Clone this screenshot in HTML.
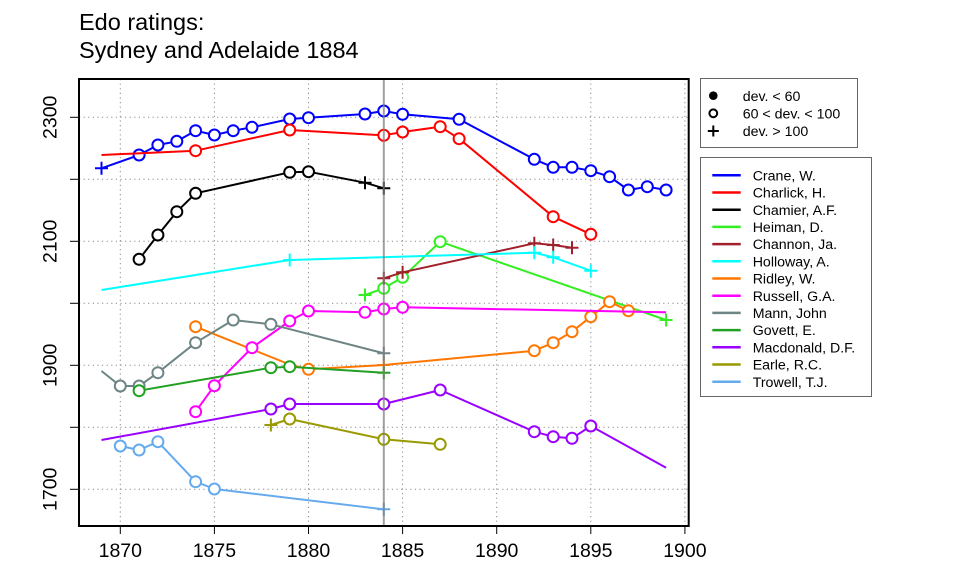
<!DOCTYPE html>
<html>
<head>
<meta charset="utf-8">
<style>
  html, body { margin:0; padding:0; background:#fff; }
  svg { display:block; }
  text { font-family: "Liberation Sans", Arial, sans-serif; fill:#000; }
</style>
</head>
<body>
<svg width="960" height="576" viewBox="0 0 960 576" xmlns="http://www.w3.org/2000/svg">
  <rect x="0" y="0" width="960" height="576" fill="#fff"/>

  <!-- Title -->
  <text x="79" y="30" font-size="23.5">Edo ratings:</text>
  <text x="79" y="58" font-size="23.5">Sydney and Adelaide 1884</text>

  <!-- Grid -->
  <g stroke="#8a8a8a" stroke-width="1" stroke-dasharray="1.2 3.4" fill="none">
    <line x1="120.3" y1="79" x2="120.3" y2="526"/>
    <line x1="214.4" y1="79" x2="214.4" y2="526"/>
    <line x1="308.5" y1="79" x2="308.5" y2="526"/>
    <line x1="402.6" y1="79" x2="402.6" y2="526"/>
    <line x1="496.7" y1="79" x2="496.7" y2="526"/>
    <line x1="590.8" y1="79" x2="590.8" y2="526"/>
    <line x1="684.9" y1="79" x2="684.9" y2="526"/>
    <line x1="79" y1="117.3" x2="689" y2="117.3"/>
    <line x1="79" y1="179.3" x2="689" y2="179.3"/>
    <line x1="79" y1="241.3" x2="689" y2="241.3"/>
    <line x1="79" y1="303.3" x2="689" y2="303.3"/>
    <line x1="79" y1="365.3" x2="689" y2="365.3"/>
    <line x1="79" y1="427.3" x2="689" y2="427.3"/>
    <line x1="79" y1="489.3" x2="689" y2="489.3"/>
  </g>

  <!-- Axis ticks -->
  <g stroke="#000" stroke-width="1">
    <line x1="70" y1="117.3" x2="79" y2="117.3"/>
    <line x1="70" y1="179.3" x2="79" y2="179.3"/>
    <line x1="70" y1="241.3" x2="79" y2="241.3"/>
    <line x1="70" y1="303.3" x2="79" y2="303.3"/>
    <line x1="70" y1="365.3" x2="79" y2="365.3"/>
    <line x1="70" y1="427.3" x2="79" y2="427.3"/>
    <line x1="70" y1="489.3" x2="79" y2="489.3"/>
    <line x1="120.3" y1="526" x2="120.3" y2="534"/>
    <line x1="214.4" y1="526" x2="214.4" y2="534"/>
    <line x1="308.5" y1="526" x2="308.5" y2="534"/>
    <line x1="402.6" y1="526" x2="402.6" y2="534"/>
    <line x1="496.7" y1="526" x2="496.7" y2="534"/>
    <line x1="590.8" y1="526" x2="590.8" y2="534"/>
    <line x1="684.9" y1="526" x2="684.9" y2="534"/>
  </g>

  <!-- Axis labels -->
  <g font-size="19.5" text-anchor="middle">
    <text x="120.3" y="557">1870</text>
    <text x="214.4" y="557">1875</text>
    <text x="308.5" y="557">1880</text>
    <text x="402.6" y="557">1885</text>
    <text x="496.7" y="557">1890</text>
    <text x="590.8" y="557">1895</text>
    <text x="684.9" y="557">1900</text>
    <text transform="translate(56.5,117.3) rotate(-90)">2300</text>
    <text transform="translate(56.5,241.3) rotate(-90)">2100</text>
    <text transform="translate(56.5,365.3) rotate(-90)">1900</text>
    <text transform="translate(56.5,489.3) rotate(-90)">1700</text>
  </g>

  <!-- Series -->
  <g fill="none" stroke-width="2" stroke-linejoin="round">
    <!-- Crane -->
    <g stroke="#0000ff">
      <polyline points="101.5,168.3 139.1,155 157.9,145 176.8,141.3 195.6,130.7 214.4,135 233.2,130.7 252,127.3 289.7,119 308.5,117.7 365,114 383.8,111 402.6,114.3 459.1,119.3 534.3,159.3 553.2,167.3 572,167.3 590.8,170.7 609.6,176.7 628.4,190 647.3,186.7 666.1,190"/>
      <path d="M95 168.3h13M101.5 161.8v13"/>
      <g fill="#fff">
        <circle cx="139.1" cy="155" r="5.5"/><circle cx="157.9" cy="145" r="5.5"/><circle cx="176.8" cy="141.3" r="5.5"/>
        <circle cx="195.6" cy="130.7" r="5.5"/><circle cx="214.4" cy="135" r="5.5"/><circle cx="233.2" cy="130.7" r="5.5"/>
        <circle cx="252" cy="127.3" r="5.5"/><circle cx="289.7" cy="119" r="5.5"/><circle cx="308.5" cy="117.7" r="5.5"/>
        <circle cx="365" cy="114" r="5.5"/><circle cx="383.8" cy="111" r="5.5"/><circle cx="402.6" cy="114.3" r="5.5"/>
        <circle cx="459.1" cy="119.3" r="5.5"/><circle cx="534.3" cy="159.3" r="5.5"/><circle cx="553.2" cy="167.3" r="5.5"/>
        <circle cx="572" cy="167.3" r="5.5"/><circle cx="590.8" cy="170.7" r="5.5"/><circle cx="609.6" cy="176.7" r="5.5"/>
        <circle cx="628.4" cy="190" r="5.5"/><circle cx="647.3" cy="186.7" r="5.5"/><circle cx="666.1" cy="190" r="5.5"/>
      </g>
    </g>
    <!-- Charlick -->
    <g stroke="#ff0000">
      <polyline points="101.5,155 195.6,150.7 289.7,130 383.8,135.3 402.6,132 440.2,126.7 459.1,138.7 553.2,216.7 590.8,234.3"/>
      <g fill="#fff">
        <circle cx="195.6" cy="150.7" r="5.5"/><circle cx="289.7" cy="130" r="5.5"/><circle cx="383.8" cy="135.3" r="5.5"/>
        <circle cx="402.6" cy="132" r="5.5"/><circle cx="440.2" cy="126.7" r="5.5"/><circle cx="459.1" cy="138.7" r="5.5"/>
        <circle cx="553.2" cy="216.7" r="5.5"/><circle cx="590.8" cy="234.3" r="5.5"/>
      </g>
    </g>
    <!-- Chamier -->
    <g stroke="#000000">
      <polyline points="139.1,259.3 157.9,235 176.8,211.7 195.6,193.3 289.7,172.3 308.5,171.7 365,182.7 383.8,188.3"/>
      <path d="M358.5 182.7h13M365 176.2v13M377.3 188.3h13M383.8 181.8v13"/>
      <g fill="#fff">
        <circle cx="139.1" cy="259.3" r="5.5"/><circle cx="157.9" cy="235" r="5.5"/><circle cx="176.8" cy="211.7" r="5.5"/>
        <circle cx="195.6" cy="193.3" r="5.5"/><circle cx="289.7" cy="172.3" r="5.5"/><circle cx="308.5" cy="171.7" r="5.5"/>
      </g>
    </g>
    <!-- Heiman -->
    <g stroke="#33ee22">
      <polyline points="365,295 383.8,288.3 402.6,277.3 440.2,241.7 666.1,320"/>
      <path d="M358.5 295h13M365 288.5v13M659.6 320h13M666.1 313.5v13"/>
      <g fill="#fff">
        <circle cx="383.8" cy="288.3" r="5.5"/><circle cx="402.6" cy="277.3" r="5.5"/><circle cx="440.2" cy="241.7" r="5.5"/>
      </g>
    </g>
    <!-- Channon -->
    <g stroke="#a0202a">
      <polyline points="383.8,278.3 402.6,272.3 534.3,243.3 553.2,245 572,247.7"/>
      <path d="M377.3 278.3h13M383.8 271.8v13M396.1 272.3h13M402.6 265.8v13M527.8 243.3h13M534.3 236.8v13M546.7 245h13M553.2 238.5v13M565.5 247.7h13M572 241.2v13"/>
    </g>
    <!-- Holloway -->
    <g stroke="#00ffff">
      <polyline points="101.5,290 289.7,260 534.3,252.7 553.2,257.3 590.8,270.7"/>
      <path d="M283.2 260h13M289.7 253.5v13M527.8 252.7h13M534.3 246.2v13M546.7 257.3h13M553.2 250.8v13M584.3 270.7h13M590.8 264.2v13"/>
    </g>
    <!-- Ridley -->
    <g stroke="#ff7700">
      <polyline points="195.6,326.7 289.7,364.5 308.5,369.3 383.8,365 534.3,350.7 553.2,342.7 572,331.7 590.8,316.7 609.6,301.7 628.4,310.7"/>
      <path d="M377.3 365h13M383.8 358.5v13"/>
      <g fill="#fff">
        <circle cx="195.6" cy="326.7" r="5.5"/><circle cx="308.5" cy="369.3" r="5.5"/>
        <circle cx="534.3" cy="350.7" r="5.5"/><circle cx="553.2" cy="342.7" r="5.5"/><circle cx="572" cy="331.7" r="5.5"/>
        <circle cx="590.8" cy="316.7" r="5.5"/><circle cx="609.6" cy="301.7" r="5.5"/><circle cx="628.4" cy="310.7" r="5.5"/>
      </g>
    </g>
    <!-- Russell -->
    <g stroke="#ff00ff">
      <polyline points="195.6,411.7 214.4,385.7 252,347.7 289.7,321 308.5,311 365,312.3 383.8,309 402.6,307.3 666.1,312.3"/>
      <g fill="#fff">
        <circle cx="195.6" cy="411.7" r="5.5"/><circle cx="214.4" cy="385.7" r="5.5"/><circle cx="252" cy="347.7" r="5.5"/>
        <circle cx="289.7" cy="321" r="5.5"/><circle cx="308.5" cy="311" r="5.5"/><circle cx="365" cy="312.3" r="5.5"/>
        <circle cx="383.8" cy="309" r="5.5"/><circle cx="402.6" cy="307.3" r="5.5"/>
      </g>
    </g>
    <!-- Mann -->
    <g stroke="#6e8585">
      <polyline points="101.5,371 120.3,386 139.1,386 157.9,372.7 195.6,342.7 233.2,320 270.9,324.3 383.8,353.3"/>
      <path d="M377.3 353.3h13M383.8 346.8v13"/>
      <g fill="#fff">
        <circle cx="120.3" cy="386" r="5.5"/><circle cx="139.1" cy="386" r="5.5"/><circle cx="157.9" cy="372.7" r="5.5"/>
        <circle cx="195.6" cy="342.7" r="5.5"/><circle cx="233.2" cy="320" r="5.5"/><circle cx="270.9" cy="324.3" r="5.5"/>
      </g>
    </g>
    <!-- Govett -->
    <g stroke="#22a022">
      <polyline points="139.1,390.7 270.9,367.7 289.7,366.7 383.8,372.7"/>
      <path d="M377.3 372.7h13M383.8 366.2v13"/>
      <g fill="#fff">
        <circle cx="139.1" cy="390.7" r="5.5"/><circle cx="270.9" cy="367.7" r="5.5"/><circle cx="289.7" cy="366.7" r="5.5"/>
      </g>
    </g>
    <!-- Macdonald -->
    <g stroke="#9900ff">
      <polyline points="101.5,440 270.9,409 289.7,404 383.8,404 440.2,390 534.3,431.7 553.2,436.7 572,438.3 590.8,426 666.1,467.7"/>
      <g fill="#fff">
        <circle cx="270.9" cy="409" r="5.5"/><circle cx="289.7" cy="404" r="5.5"/><circle cx="383.8" cy="404" r="5.5"/>
        <circle cx="440.2" cy="390" r="5.5"/><circle cx="534.3" cy="431.7" r="5.5"/><circle cx="553.2" cy="436.7" r="5.5"/>
        <circle cx="572" cy="438.3" r="5.5"/><circle cx="590.8" cy="426" r="5.5"/>
      </g>
    </g>
    <!-- Earle -->
    <g stroke="#999900">
      <polyline points="270.9,425 289.7,419 383.8,439.3 440.2,444.3"/>
      <path d="M264.4 425h13M270.9 418.5v13"/>
      <g fill="#fff">
        <circle cx="289.7" cy="419" r="5.5"/><circle cx="383.8" cy="439.3" r="5.5"/><circle cx="440.2" cy="444.3" r="5.5"/>
      </g>
    </g>
    <!-- Trowell -->
    <g stroke="#66aaee">
      <polyline points="120.3,446 139.1,450 157.9,441.7 195.6,481.7 214.4,489 383.8,509.3"/>
      <path d="M377.3 509.3h13M383.8 502.8v13"/>
      <g fill="#fff">
        <circle cx="120.3" cy="446" r="5.5"/><circle cx="139.1" cy="450" r="5.5"/><circle cx="157.9" cy="441.7" r="5.5"/>
        <circle cx="195.6" cy="481.7" r="5.5"/><circle cx="214.4" cy="489" r="5.5"/>
      </g>
    </g>
  </g>

  <!-- Vertical reference line at 1884 -->
  <line x1="383.8" y1="79" x2="383.8" y2="526" stroke="#808080" stroke-opacity="0.75" stroke-width="2"/>

  <!-- Plot box -->
  <rect x="79" y="79" width="609.7" height="447" fill="none" stroke="#000" stroke-width="2"/>

  <!-- Legend 1 -->
  <rect x="700.5" y="78.5" width="157" height="69" fill="#fff" stroke="#666" stroke-width="1"/>
  <circle cx="713.3" cy="95.7" r="4.3" fill="#000"/>
  <circle cx="713.3" cy="113.3" r="3.9" fill="none" stroke="#000" stroke-width="2"/>
  <path d="M707.8 131h11M713.3 125.5v11" stroke="#000" stroke-width="2"/>
  <g font-size="14.2">
    <text x="742.7" y="100.8">dev. &lt; 60</text>
    <text x="742.7" y="118.4">60 &lt; dev. &lt; 100</text>
    <text x="742.7" y="136.1">dev. &gt; 100</text>
  </g>

  <!-- Legend 2 -->
  <rect x="700.5" y="157.5" width="171" height="239" fill="#fff" stroke="#666" stroke-width="1"/>
  <g stroke-width="2.5">
    <line x1="712.3" y1="175.3" x2="740.7" y2="175.3" stroke="#0000ff"/>
    <line x1="712.3" y1="192.5" x2="740.7" y2="192.5" stroke="#ff0000"/>
    <line x1="712.3" y1="209.7" x2="740.7" y2="209.7" stroke="#000000"/>
    <line x1="712.3" y1="226.9" x2="740.7" y2="226.9" stroke="#33ee22"/>
    <line x1="712.3" y1="244.1" x2="740.7" y2="244.1" stroke="#a0202a"/>
    <line x1="712.3" y1="261.3" x2="740.7" y2="261.3" stroke="#00ffff"/>
    <line x1="712.3" y1="278.5" x2="740.7" y2="278.5" stroke="#ff7700"/>
    <line x1="712.3" y1="295.7" x2="740.7" y2="295.7" stroke="#ff00ff"/>
    <line x1="712.3" y1="312.9" x2="740.7" y2="312.9" stroke="#6e8585"/>
    <line x1="712.3" y1="330.1" x2="740.7" y2="330.1" stroke="#22a022"/>
    <line x1="712.3" y1="347.3" x2="740.7" y2="347.3" stroke="#9900ff"/>
    <line x1="712.3" y1="364.5" x2="740.7" y2="364.5" stroke="#999900"/>
    <line x1="712.3" y1="381.7" x2="740.7" y2="381.7" stroke="#66aaee"/>
  </g>
  <g font-size="14.2">
    <text x="752.7" y="180.4">Crane, W.</text>
    <text x="752.7" y="197.6">Charlick, H.</text>
    <text x="752.7" y="214.8">Chamier, A.F.</text>
    <text x="752.7" y="232">Heiman, D.</text>
    <text x="752.7" y="249.2">Channon, Ja.</text>
    <text x="752.7" y="266.4">Holloway, A.</text>
    <text x="752.7" y="283.6">Ridley, W.</text>
    <text x="752.7" y="300.8">Russell, G.A.</text>
    <text x="752.7" y="318">Mann, John</text>
    <text x="752.7" y="335.2">Govett, E.</text>
    <text x="752.7" y="352.4">Macdonald, D.F.</text>
    <text x="752.7" y="369.6">Earle, R.C.</text>
    <text x="752.7" y="386.8">Trowell, T.J.</text>
  </g>
</svg>
</body>
</html>
